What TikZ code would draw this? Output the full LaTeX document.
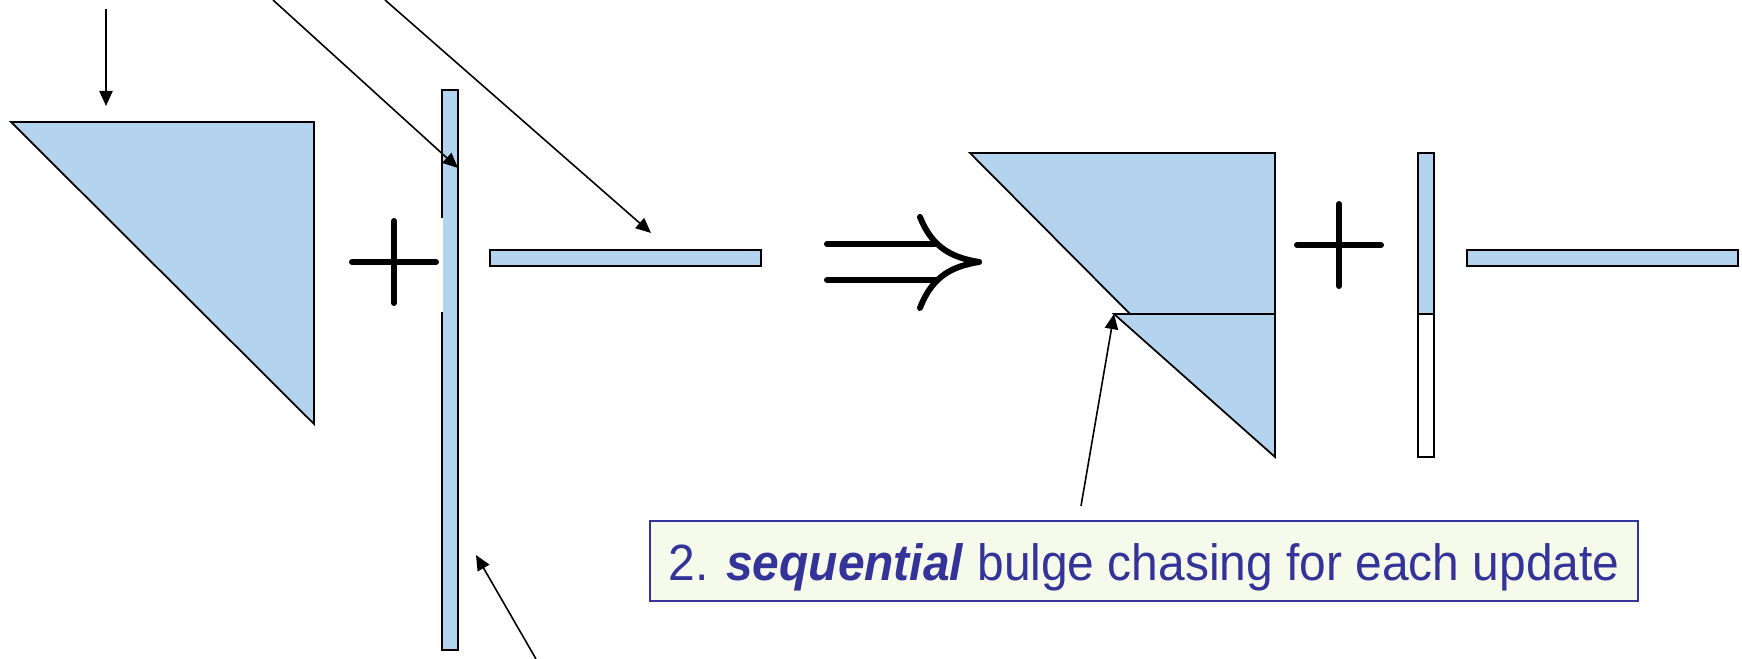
\documentclass[tikz,border=0pt]{standalone}
\usepackage{fontspec}
\setmainfont{Liberation Sans}[FakeStretch=0.94]
\usetikzlibrary{arrows.meta}

\definecolor{band}{HTML}{B3D3EE}
\definecolor{note}{HTML}{333399}
\definecolor{notebg}{HTML}{F6FAEA}

\begin{document}
\begin{tikzpicture}[x=0.01cm, y=-0.01cm,
  blk/.style={fill=band, draw=black, line width=0.5pt},
  ptr/.style={-{Triangle[length=4.3pt,width=3.8pt]}, line width=0.45pt},
  op/.style={line width=1.7pt, line cap=round}]
\useasboundingbox (0,0) rectangle (1742,659);

\draw [blk] (11,122) -- (314,122) -- (314,424) -- cycle;
\draw [blk] (442,90) rectangle (458,650);
\draw [white, line width=0.55pt] (442,218) -- (442,312);
\draw [blk] (970,153) -- (1275,153) -- (1275,314) -- (1130,314) -- cycle;
\draw [blk] (1114,314) -- (1275,314) -- (1275,457) -- cycle;
\draw [blk] (1418,153) rectangle (1434,314);
\draw [black, line width=0.5pt] (1418,314) rectangle (1434,457);
\foreach \x in {490,1467} {
  \draw [blk] (\x,250) rectangle ++(271,16);
}
\foreach \cx/\cy in {394/262,1339/245} {
  \draw [op] (\cx-42,\cy) -- (\cx+42,\cy) (\cx,\cy-41) -- (\cx,\cy+41);
}
\draw [op] (827,244) -- (937,244) (827,280) -- (937,280);
\draw [op] (920,217) .. controls (933,250) and (955,258) .. (979,262);
\draw [op] (920,308) .. controls (933,274) and (955,266) .. (979,262);

\node [draw=note, fill=notebg, line width=0.55pt, text=note, inner sep=0pt,
  minimum width=9.88cm, minimum height=0.8cm, text height=11pt, text depth=0pt,
  font=\fontsize{14.5}{17}\selectfont] (upd) at (1144,561)
  {2. \textbf{\textit{sequential}} bulge chasing for each update};

\coordinate (tri-in)   at (106,9);
\coordinate (tri-top)  at (106,106);
\coordinate (col-in)   at (273,0);
\coordinate (col-top)  at (458,168);
\coordinate (row-in)   at (385,0);
\coordinate (row-mid)  at (651,233);
\coordinate (col-in2)  at (536,659);
\coordinate (col-low)  at (476,555);
\coordinate (bulge-in) at (1081,506);
\coordinate (bulge)    at (1114,314);
\draw [ptr] (tri-in) -- (tri-top);
\draw [ptr] (col-in) -- (col-top);
\draw [ptr] (row-in) -- (row-mid);
\draw [ptr] (col-in2) -- (col-low);
\draw [ptr] (bulge-in) -- (bulge);
\end{tikzpicture}
\end{document}
